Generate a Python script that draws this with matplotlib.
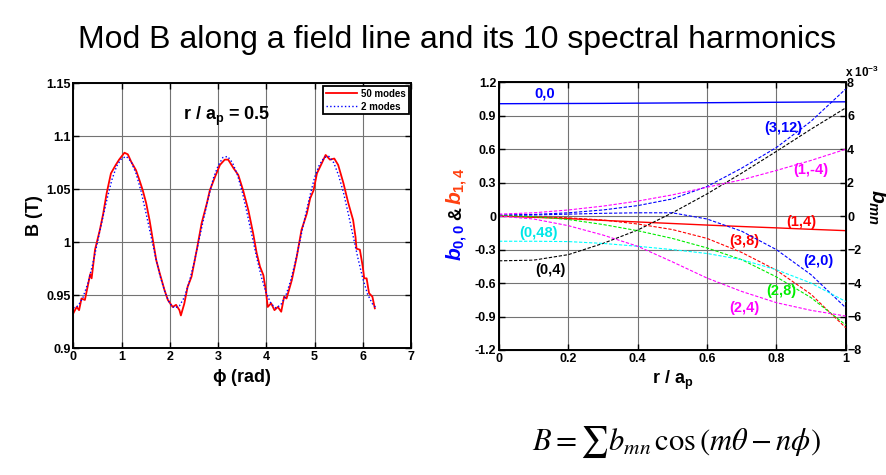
import matplotlib as mpl
import matplotlib.pyplot as plt

mpl.use('Agg')
plt.rcParams['font.family'] = ['Liberation Sans', 'DejaVu Sans']
plt.rcParams['mathtext.fontset'] = 'custom'
plt.rcParams['mathtext.rm'] = 'Liberation Sans:bold'
plt.rcParams['mathtext.it'] = 'Liberation Sans:bold:italic'
plt.rcParams['mathtext.bf'] = 'Liberation Sans:bold'

# ---- left panel: B along a field line (r / a_p = 0.5) ----
phi_50 = [0.00, 0.07, 0.12, 0.17, 0.24, 0.31, 0.35, 0.38, 0.45, 0.55, 0.62, 0.69, 0.78,
          0.88, 0.95, 1.06, 1.13, 1.20, 1.30, 1.37, 1.44, 1.51, 1.58, 1.65, 1.72, 1.79,
          1.89, 1.96, 2.06, 2.13, 2.20, 2.23, 2.30, 2.37, 2.45, 2.56, 2.66, 2.77, 2.83,
          2.94, 3.04, 3.14, 3.21, 3.32, 3.42, 3.52, 3.63, 3.73, 3.80, 3.87, 3.94, 3.99,
          4.03, 4.10, 4.17, 4.24, 4.31, 4.37, 4.42, 4.53, 4.63, 4.73, 4.84, 4.91, 4.98,
          5.05, 5.15, 5.23, 5.32, 5.41, 5.49, 5.60, 5.70, 5.80, 5.85, 5.87, 5.94, 6.00,
          6.03, 6.08, 6.13, 6.20, 6.25]
B_50 = [0.933, 0.939, 0.936, 0.947, 0.9456, 0.961, 0.970, 0.966, 0.993, 1.0116, 1.027,
        1.046, 1.065, 1.073, 1.078, 1.0845, 1.083, 1.076, 1.068, 1.0588, 1.049, 1.037,
        1.021, 1.002, 0.983, 0.971, 0.955, 0.9456, 0.939, 0.941, 0.936, 0.931, 0.942,
        0.958, 0.9675, 0.993, 1.018, 1.037, 1.049, 1.062, 1.073, 1.078, 1.078, 1.070,
        1.0635, 1.049, 1.030, 1.008, 0.990, 0.977, 0.969, 0.955, 0.939, 0.9425, 0.936,
        0.939, 0.9345, 0.9487, 0.947, 0.9644, 0.986, 1.0116, 1.027, 1.0415, 1.049, 1.065,
        1.0745, 1.0824, 1.078, 1.079, 1.073, 1.0557, 1.037, 1.021, 1.005, 0.994, 0.993,
        0.977, 0.966, 0.966, 0.952, 0.9487, 0.9377]

phi_2 = [0.0, 0.1, 0.2, 0.3, 0.4, 0.5, 0.6, 0.7, 0.8, 0.9, 1.0, 1.1, 1.2, 1.3, 1.4, 1.5,
         1.6, 1.7, 1.8, 1.9, 2.0, 2.1, 2.2, 2.3, 2.4, 2.5, 2.6, 2.7, 2.8, 2.9, 3.0, 3.1,
         3.2, 3.3, 3.4, 3.5, 3.6, 3.7, 3.8, 3.9, 4.0, 4.1, 4.2, 4.3, 4.4, 4.5, 4.6, 4.7,
         4.8, 4.9, 5.0, 5.1, 5.2, 5.3, 5.4, 5.5, 5.6, 5.7, 5.8, 5.9, 6.0, 6.1, 6.2, 6.28]
B_2 = [0.938, 0.940, 0.948, 0.961, 0.979, 1.000, 1.021, 1.041, 1.059, 1.072, 1.079,
       1.081, 1.076, 1.065, 1.049, 1.029, 1.008, 0.987, 0.968, 0.953, 0.942, 0.938,
       0.940, 0.948, 0.962, 0.980, 1.001, 1.022, 1.042, 1.060, 1.072, 1.080, 1.081,
       1.075, 1.064, 1.048, 1.028, 1.007, 0.986, 0.967, 0.952, 0.942, 0.938, 0.941,
       0.949, 0.963, 0.981, 1.002, 1.023, 1.043, 1.061, 1.073, 1.080, 1.081, 1.075,
       1.063, 1.047, 1.027, 1.006, 0.985, 0.966, 0.951, 0.942, 0.938]

# ---- right panel: harmonics vs r / a_p ----
r = [0.0, 0.1, 0.2, 0.3, 0.4, 0.5, 0.6, 0.7, 0.8, 0.9, 1.0]
# left axis (T)
b_00 = [1.008, 1.009, 1.010, 1.011, 1.013, 1.015, 1.017, 1.019, 1.021, 1.023, 1.025]
b_14 = [0.0, -0.010, -0.022, -0.038, -0.052, -0.066, -0.080, -0.093, -0.105, -0.118, -0.130]
# right axis (x 1e-3 T)
b_3_12 = [0.07, 0.10, 0.20, 0.37, 0.63, 1.03, 1.77, 2.87, 4.10, 5.67, 7.60]
b_0_4 = [-2.67, -2.63, -2.30, -1.63, -0.83, 0.20, 1.33, 2.57, 3.87, 5.20, 6.47]
b_1_m4 = [0.12, 0.20, 0.37, 0.60, 0.90, 1.27, 1.73, 2.17, 2.73, 3.33, 4.00]
b_2_0 = [0.03, 0.07, 0.12, 0.17, 0.20, 0.20, -0.17, -0.90, -2.00, -3.50, -5.47]
b_3_8 = [0.0, -0.03, -0.10, -0.23, -0.47, -0.80, -1.33, -2.17, -3.23, -4.67, -6.67]
b_2_8 = [0.03, -0.03, -0.20, -0.50, -0.87, -1.33, -1.90, -2.60, -3.63, -4.87, -6.50]
b_0_48 = [-1.50, -1.50, -1.52, -1.63, -1.80, -2.00, -2.23, -2.60, -3.20, -4.00, -5.10]
b_2_4 = [0.0, -0.17, -0.57, -1.13, -1.80, -2.73, -3.70, -4.50, -5.17, -5.63, -5.97]

MAG = '#ff00ff'
CYA = '#00ffff'
GRN = '#00ee00'

fig = plt.figure(figsize=(8.86, 4.75), dpi=100)
W, H = 886.0, 475.0

fig.text(457 / W, 1 - 40 / H, 'Mod B along a field line and its 10 spectral harmonics',
         ha='center', va='center', fontsize=23, fontweight='normal')


def style_axes(ax):
    ax.grid(True, color='0.45', lw=0.8)
    ax.set_axisbelow(True)
    ax.tick_params(direction='in', length=4, width=1, labelsize=9, top=True, right=True, pad=2)
    for s in ax.spines.values():
        s.set_linewidth(1.4)
    for lab in ax.get_xticklabels() + ax.get_yticklabels():
        lab.set_fontweight('bold')


ax1 = fig.add_axes([73.3 / W, 1 - 348.3 / H, (411 - 73.3) / W, (348.3 - 83.3) / H])
ax1.plot(phi_50, B_50, color='red', lw=1.3, label='50 modes')
ax1.plot(phi_2, B_2, color='blue', lw=1.0, ls=':', label='2 modes')
ax1.set_xlim(0, 7)
ax1.set_ylim(0.9, 1.15)
ax1.set_xticks(range(8))
ax1.set_yticks([0.9, 0.95, 1.0, 1.05, 1.1, 1.15])
ax1.set_yticklabels(['0.9', '0.95', '1', '1.05', '1.1', '1.15'])
style_axes(ax1)
ax1.set_xlabel(r'$\mathbf{\phi}$ (rad)', fontsize=13, fontweight='bold', labelpad=3)
ax1.set_ylabel('B (T)', fontsize=13, fontweight='bold', labelpad=2)
ax1.text(3.18, 1.119, r'r / a$_\mathregular{p}$ = 0.5', fontsize=13, fontweight='bold',
         ha='center', va='center')
leg = ax1.legend(loc='upper right', prop={'weight': 'bold', 'size': 7},
                 fancybox=False, framealpha=1, edgecolor='black', handlelength=3.2,
                 borderpad=0.3, labelspacing=0.3, borderaxespad=0.25, handletextpad=0.4)
leg.get_frame().set_linewidth(1.3)

ax2 = fig.add_axes([499 / W, 1 - 350 / H, (845.7 - 499) / W, (350 - 82.3) / H])
ax2.plot(r, b_00, color='blue', lw=1.0)
ax2.plot(r, b_14, color='red', lw=1.0)
ax2.set_xlim(0, 1)
ax2.set_ylim(-1.2, 1.2)
ax2.set_xticks([0, 0.2, 0.4, 0.6, 0.8, 1.0])
ax2.set_xticklabels(['0', '0.2', '0.4', '0.6', '0.8', '1'])
ax2.set_yticks([-1.2, -0.9, -0.6, -0.3, 0, 0.3, 0.6, 0.9, 1.2])
ax2.set_yticklabels(['-1.2', '-0.9', '-0.6', '-0.3', '0', '0.3', '0.6', '0.9', '1.2'])
style_axes(ax2)
ax2.tick_params(right=False)
ax2.set_xlabel(r'r / a$_\mathregular{p}$', fontsize=13, fontweight='bold', labelpad=3)

ax3 = ax2.twinx()
ax3.set_ylim(-8, 8)
ax3.set_yticks(range(-8, 9, 2))
ax3.tick_params(direction='in', length=4, width=1, labelsize=9, pad=1)
for lab in ax3.get_yticklabels():
    lab.set_fontweight('bold')
dash = (0, (3, 1.5))
ax3.plot(r, b_3_12, color='blue', lw=0.8, ls=dash)
ax3.plot(r, b_0_4, color='black', lw=0.8, ls=dash)
ax3.plot(r, b_1_m4, color=MAG, lw=0.8, ls=dash)
ax3.plot(r, b_2_0, color='blue', lw=0.8, ls=dash)
ax3.plot(r, b_3_8, color='red', lw=0.8, ls=dash)
ax3.plot(r, b_2_8, color=GRN, lw=0.8, ls=dash)
ax3.plot(r, b_0_48, color=CYA, lw=0.8, ls=dash)
ax3.plot(r, b_2_4, color=MAG, lw=0.8, ls=dash)

labels = [('0,0', 0.133, 1.10, 'blue'), ('(3,12)', 0.82, 0.79, 'blue'),
          ('(1,-4)', 0.90, 0.415, MAG), ('(1,4)', 0.872, -0.048, 'red'),
          ('(3,8)', 0.709, -0.227, 'red'), ('(2,0)', 0.92, -0.406, 'blue'),
          ('(2,8)', 0.815, -0.675, GRN), ('(2,4)', 0.709, -0.824, MAG),
          ('(0,48)', 0.113, -0.152, '#00e8e8'), ('(0,4)', 0.147, -0.487, 'black')]
for txt, x, y, c in labels:
    ax2.text(x, y, txt, color=c, fontsize=10.5, fontweight='bold', ha='center', va='center',
             zorder=5)

# multicolour left label
fig.text(457 / W, 1 - 242 / H, r'$b_{0,0}$', color='blue', rotation=90, fontsize=15,
         ha='center', va='center')
fig.text(457 / W, 1 - 214 / H, '&', color='black', rotation=90, fontsize=13,
         fontweight='bold', ha='center', va='center')
fig.text(457 / W, 1 - 186 / H, r'$b_{1,4}$', color='#ff4010', rotation=90, fontsize=15,
         ha='center', va='center')
fig.text(877 / W, 1 - 207 / H, r'$b_{mn}$', color='black', rotation=-90, fontsize=15,
         ha='center', va='center')
fig.text(862 / W, 1 - 72 / H, r'x 10$^\mathregular{-3}$', fontsize=8.5, fontweight='bold',
         ha='center', va='center')

fig.text(676 / W, 1 - 442 / H,
         r'$B = \sum b_{mn}\,\cos\left(m\theta - n\phi\right)$', fontsize=22,
         math_fontfamily='stix', ha='center', va='center')

fig.savefig('out.png', dpi=100)
